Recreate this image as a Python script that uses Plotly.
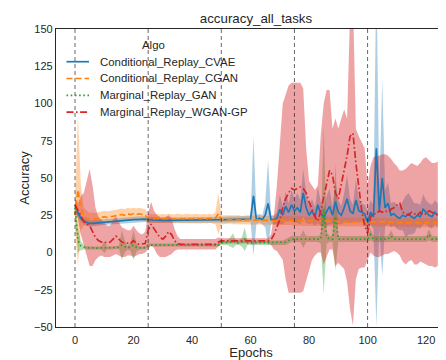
import plotly.graph_objects as go

# epochs 0..124
epochs = list(range(125))
task_starts = [0, 25, 50, 75, 100]
algos = ["Conditional_Replay_CVAE", "Conditional_Replay_CGAN", "Marginal_Replay_GAN", "Marginal_Replay_WGAN-GP"]

cvae_mean = [30, 26, 23, 21, 20, 19.5, 19.6, 19.8, 20, 20.2,
             20.4, 20.6, 20.8, 21, 21.1, 21.3, 21.4, 21.6, 21.7, 21.8,
             22, 22.1, 22.2, 22.3, 22.4, 22, 21.8, 21.7, 21.6, 21.6,
             21.5, 21.5, 21.5, 21.5, 21.5, 21.5, 21.5, 21.5, 21.5, 21.5,
             21.6, 21.6, 21.7, 21.7, 21.8, 21.8, 21.9, 21.9, 22, 22,
             22, 22, 22.1, 22.1, 22.2, 22.2, 22.3, 22.3, 22.4, 22.4,
             22.5, 38, 22, 23, 22, 25, 33, 22, 22, 23,
             29, 25, 31, 27, 32, 28, 30, 27, 40, 30,
             25, 28, 24, 32, 26, 24, 28, 31, 25, 34,
             27, 25, 30, 36, 28, 26, 35, 28, 27, 26,
             20, 27, 24, 70, 28, 50, 30, 33, 25, 26,
             24, 23, 25, 24, 26, 24, 23, 25, 24, 29,
             27, 25, 24, 27, 25]
cvae_err = [3, 2.5, 2, 2, 2, 2, 2, 2, 2, 2,
            2, 2, 2, 2, 2, 2, 2, 2, 2, 2,
            2, 2, 2, 2, 2, 2, 2, 2, 2, 2,
            2, 2, 2, 2, 2, 2, 2, 2, 2, 2,
            2, 2, 2, 2, 2, 2, 2, 2, 2, 2,
            2, 2, 2, 2, 2, 2, 2, 2, 2, 2,
            2, 40, 3, 3, 3, 8, 29, 3, 3, 4,
            10, 6, 10, 6, 10, 8, 10, 8, 16, 10,
            6, 8, 6, 12, 8, 6, 10, 12, 6, 14,
            8, 6, 10, 16, 8, 6, 14, 8, 6, 6,
            8, 8, 8, 120, 12, 66, 12, 14, 8, 8,
            8, 8, 10, 14, 14, 12, 10, 8, 8, 10,
            8, 8, 8, 8, 8]

cgan_mean = [25, 42, 30, 24, 23, 22.5, 23, 22.5, 23, 23.5,
             24, 23.5, 24, 24.5, 24.5, 25, 25.5, 25, 26, 25.5,
             26, 25.5, 26, 25.5, 25, 23, 22.5, 22.5, 23, 22.5,
             23, 22.5, 23, 22.5, 22.5, 23, 22.5, 22.5, 23, 22.5,
             22.5, 23, 22.5, 22.5, 23, 22.5, 23, 22.5, 23, 26,
             22, 22, 22, 22.5, 22, 22, 22, 21.5, 22, 22,
             22, 21.5, 22, 21.5, 21.5, 21.5, 21.5, 21.5, 21.5, 21.5,
             21.5, 21.5, 21.5, 21.5, 21.5, 21, 21, 21, 21, 21,
             21, 21, 21, 21, 21, 21, 21, 21, 21, 21,
             20.5, 20.5, 20.5, 20.5, 20.5, 20.5, 20.5, 20.5, 20.5, 20.5,
             20.5, 21, 20.5, 20.5, 20.5, 20.5, 20.5, 20, 20.5, 20,
             20, 20.5, 20, 20, 20, 20.5, 20, 20, 20, 20,
             20, 20, 20, 20, 20]
cgan_err = [10, 50, 15, 6, 5, 4, 4, 4, 4, 4,
            4, 4, 4, 4, 4, 4, 4, 4, 4, 4,
            4, 4, 4, 4, 4, 3, 3, 3, 3, 3,
            3, 3, 3, 3, 3, 3, 3, 3, 3, 3,
            3, 3, 3, 3, 3, 3, 3, 3, 4, 14,
            3, 3, 3, 3, 3, 3, 3, 3, 3, 3,
            3, 3, 3, 3, 3, 3, 3, 3, 3, 3,
            3, 3, 3, 3, 3, 3, 3, 3, 3, 3,
            3, 3, 3, 3, 3, 3, 3, 3, 3, 3,
            3, 3, 3, 3, 3, 3, 3, 3, 3, 3,
            3, 3, 3, 3, 3, 3, 3, 3, 3, 3,
            3, 3, 3, 3, 3, 3, 3, 3, 3, 3,
            3, 3, 3, 3, 3]

gan_mean = [30, 8, 4.5, 3.5, 3.2, 3, 3, 3, 3, 3,
            3.5, 3, 3, 3, 3.2, 3.5, 5, 4, 3, 4,
            5, 3.5, 3, 3, 3.2, 5, 5, 5, 5, 5,
            5, 5, 5, 5, 5, 5, 5, 5, 5, 5,
            5, 5, 5, 5, 5, 5, 5, 5, 5, 5,
            6.5, 6.5, 6.5, 7, 8, 6.5, 6.5, 7, 9, 6.5,
            6.5, 6.5, 6.5, 6.5, 6.5, 6.5, 6.5, 6.5, 6.5, 6.5,
            6.5, 6.5, 7, 8, 9, 9, 9, 9, 9, 9,
            9, 9, 9, 9, 9, 29, 10, 9, 9, 24,
            9, 9, 9, 9, 9, 9, 9, 9, 9, 9,
            9, 12, 9, 9, 9, 8.5, 9, 9, 11, 9,
            9, 9, 9, 8.5, 9, 9, 9, 9, 9, 9,
            9, 12, 9, 9, 9]
gan_err = [3, 8, 3, 1.5, 1, 1, 1, 1, 1, 1,
           4, 1, 1, 1, 1, 1, 10, 4, 1, 3,
           10, 3, 1, 1, 1, 1, 1, 1, 1, 1,
           1, 1, 1, 1, 1, 1, 1, 1, 1, 1,
           1, 1, 1, 1, 1, 1, 1, 1, 1, 1,
           1.5, 1.5, 1.5, 3, 5, 1.5, 1.5, 3, 8, 1.5,
           1.5, 1.5, 1.5, 1.5, 1.5, 1.5, 1.5, 1.5, 1.5, 1.5,
           1.5, 1.5, 2, 2, 2, 2, 2, 2, 6, 2,
           2, 2, 2, 2, 3, 57, 4, 2, 2, 36,
           2, 2, 2, 2, 2, 2, 2, 2, 2, 2,
           2, 4, 2, 2, 2, 2, 2, 2, 4, 2,
           2, 2, 2, 2, 2, 2, 2, 2, 2, 2,
           2, 4, 2, 2, 2]

wgan_mean = [32, 28, 25, 21, 19, 18, 14, 10, 8, 7,
             7, 6.5, 7, 9, 11, 9, 7, 6.5, 6, 6,
             8, 6, 5.5, 5.5, 6, 15, 19, 16, 13, 10,
             9, 11, 14, 12, 8, 6, 5.5, 5.5, 5.5, 5.5,
             5.5, 5.5, 5.5, 5.5, 5.5, 5.5, 5.5, 5.5, 5.5, 7,
             7.8, 7.8, 7.8, 7.8, 7.8, 7.8, 7.8, 7.8, 7.8, 7.8,
             7.8, 7.8, 7.8, 7.8, 7.8, 7.8, 7.8, 8.5, 12, 17,
             22, 30, 36, 40, 43, 42, 43, 44, 43, 40,
             34, 29, 24, 21, 28, 37, 46, 55, 52, 40,
             36, 45, 55, 65, 78, 80, 60, 45, 28, 18,
             13, 24, 26, 26, 28, 27, 28, 27, 29, 30,
             32, 33, 27, 26, 25, 27, 26, 25, 27, 25,
             26, 28, 27, 26, 25]
wgan_lo = [27, 23, 12, 5, -2, -9, -9, -5, -3, -2,
           -3, -3, -3, -2, -1, -2, -3, -3, -2, -2,
           -3, -2, -1, -1, 0, 2, 5, 3, -1, -3,
           -3, -3, -2, -1, 1, 2, 2, 2, 2, 2,
           2, 2, 2, 2, 2, 2, 2, 2, 2, 4,
           6, 6, 6, 6, 6, 6, 6, 6, 6, 6,
           6, 6, 6, 6, 6, 6, 6, 5, 2, 1,
           -2, -5, -18, -27, -27, -27, -27, -27, -26, -20,
           -12, -5, -2, 0, 0, -8, -3, 2, 2, -9,
           -7, -9, -11, -20, -38, -49, -18, -11, -10, -10,
           -5, 0, -2, -3, -3, -2, -1, -1, 0, 1,
           0, -2, -6, -8, -6, -5, -8, -8, -6, -7,
           -8, -9, -9, -10, -9]
wgan_hi = [36, 33, 38, 40, 48, 56, 45, 30, 24, 22,
           20, 18, 18, 22, 24, 20, 17, 16, 15, 15,
           18, 15, 13, 12, 14, 26, 34, 28, 25, 24,
           22, 24, 25, 23, 16, 11, 9, 9, 9, 9,
           9, 9, 9, 9, 9, 9, 9, 9, 9, 10,
           9.6, 9.6, 9.6, 9.6, 9.6, 9.6, 9.6, 9.6, 9.6, 9.6,
           9.6, 9.6, 9.6, 9.6, 9.6, 9.6, 9.6, 12, 25, 45,
           75, 100, 106, 112, 114, 114, 114, 114, 110, 70,
           48, 45, 42, 45, 79, 100, 109, 109, 83, 90,
           83, 90, 96, 90, 160, 170, 83, 78, 74, 70,
           45, 58, 64, 65, 65, 66, 66, 65, 63, 60,
           58, 55, 55, 56, 58, 60, 59, 58, 60, 63,
           64, 62, 60, 60, 61]

colors = ["#1f77b4", "#ff7f0e", "#2ca02c", "#d62728"]
bands = ["rgba(31,119,180,0.36)", "rgba(255,127,14,0.36)", "rgba(44,160,44,0.36)", "rgba(214,39,40,0.42)"]
dashes = ["solid", "6px,3px", "1.6px,2.6px", "7px,2.5px,1.6px,2.5px"]

means = [cvae_mean, cgan_mean, gan_mean, wgan_mean]
lows = [[m - e for m, e in zip(cvae_mean, cvae_err)],
        [m - e for m, e in zip(cgan_mean, cgan_err)],
        [m - e for m, e in zip(gan_mean, gan_err)],
        wgan_lo]
highs = [[m + e for m, e in zip(cvae_mean, cvae_err)],
         [m + e for m, e in zip(cgan_mean, cgan_err)],
         [m + e for m, e in zip(gan_mean, gan_err)],
         wgan_hi]

# page body has an 8px margin, so the figure is 8px smaller than the window
OFF = 8
W, H = 446 - OFF, 360 - OFF
L, R, T, B = 56 - OFF, 0, 29 - OFF, 360 - 327
font = "Liberation Sans, Arial, sans-serif"

# page-pixel -> paper helpers for the hand-placed legend
def px(p):
    return (p - OFF - L) / (W - L - R)

def py(p):
    return (H - B - (p - OFF)) / (H - T - B)

fig = go.Figure()

# bands go under every line, like matplotlib zorder
for lo, hi, fc in zip(lows, highs, bands):
    fig.add_trace(go.Scatter(x=epochs + epochs[::-1], y=hi + lo[::-1], fill="toself",
                             fillcolor=fc, line=dict(width=0), mode="lines",
                             showlegend=False, hoverinfo="skip"))

for name, m, c, d in zip(algos, means, colors, dashes):
    fig.add_trace(go.Scatter(x=epochs, y=m, mode="lines", name=name, showlegend=False,
                             line=dict(color=c, width=1.7, dash=d)))

for t in task_starts:
    fig.add_shape(type="line", x0=t, x1=t, y0=0, y1=1, xref="x", yref="paper",
                  line=dict(color="rgba(40,40,40,0.7)", width=1, dash="4px,3px"), layer="above")

# legend (matplotlib style: title centred, tight rows)
fig.add_annotation(text="Algo", x=px(153.5), y=py(45), xref="paper", yref="paper",
                   showarrow=False, xanchor="center", yanchor="middle", font=dict(size=11.4))
for i, (name, c, d) in enumerate(zip(algos, colors, dashes)):
    yy = py(61.7 + 16.8 * i)
    fig.add_shape(type="line", x0=px(66.5), x1=px(89), y0=yy, y1=yy, xref="paper", yref="paper",
                  line=dict(color=c, width=1.7, dash=d))
    fig.add_annotation(text=name, x=px(98), y=yy, xref="paper", yref="paper",
                       showarrow=False, xanchor="left", yanchor="middle", font=dict(size=11.4))

fig.update_layout(
    width=W, height=H,
    margin=dict(l=L, r=R, t=T, b=B),
    paper_bgcolor="white", plot_bgcolor="white",
    font=dict(family=font, size=11, color="#262626"),
    showlegend=False,
    title=dict(text="accuracy_all_tasks", x=(256 - OFF) / W, xref="container", xanchor="center",
               y=1 - (18 - OFF) / H, yref="container", yanchor="middle", font=dict(size=13.3)),
)
fig.update_xaxes(range=[-6.5, 126.8], tickvals=[0, 20, 40, 60, 80, 100, 120],
                 showline=True, linecolor="#262626", linewidth=1.25, mirror=True,
                 showgrid=False, zeroline=False, ticks="", automargin=False,
                 ticklabelstandoff=3,
                 title=dict(text="Epochs", standoff=0))
fig.update_yaxes(range=[-50, 150], tickvals=[-50, -25, 0, 25, 50, 75, 100, 125, 150],
                 showline=True, linecolor="#262626", linewidth=1.25,
                 showgrid=False, zeroline=False, ticks="", automargin=False,
                 title=dict(text="Accuracy", standoff=1))

fig.write_html("out.html")
